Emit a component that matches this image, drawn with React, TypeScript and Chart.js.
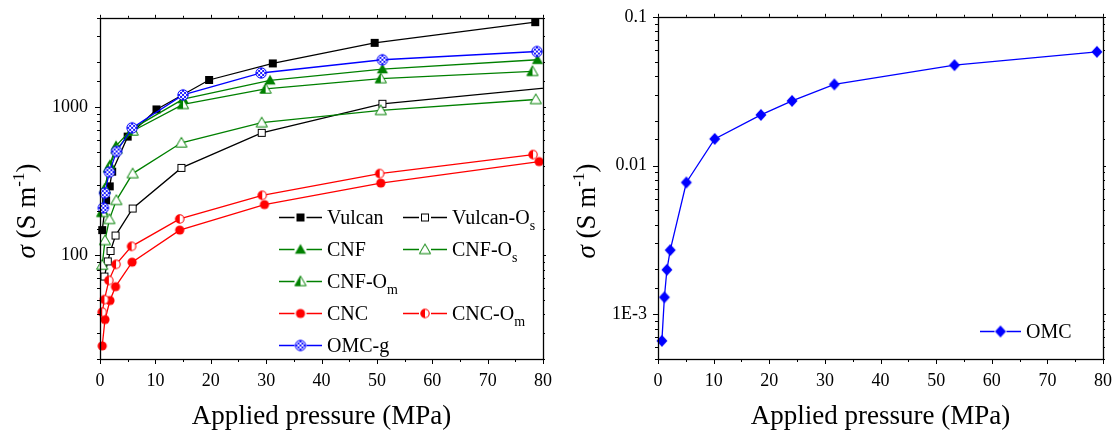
import React, { useEffect, useRef } from 'react';
import { Chart, registerables } from 'chart.js';
Chart.register(...registerables);

const SERIF = '"Liberation Serif", "Times New Roman", serif';
const GREEN = 'rgb(0,128,0)';
const RED = 'rgb(255,0,0)';
const BLUE = 'rgb(0,0,255)';
const BLACK = '#000';

// ---------- Left chart data (pressure MPa, conductivity S/m) ----------
const vulcanP = [0.4, 1.1, 1.75, 2.2, 5.0, 10.2, 19.7, 31.2, 49.6, 78.6];
const vulcanS = [148, 235, 292, 367, 632, 964, 1523, 1970, 2710, 3740];
const vulcanOsP = [0.8, 1.4, 1.9, 2.8, 5.9, 14.7, 29.2, 51.0, 85];
const vulcanOsS = [72, 91, 107, 136, 207, 389, 670, 1052, 1397];
const cnfP = [0.5, 0.85, 1.8, 2.9, 5.8, 15.0, 30.7, 51.0, 79.0];
const cnfS = [200, 284, 409, 548, 713, 1132, 1516, 1803, 2085];
const cnfOsP = [0.4, 0.9, 1.7, 2.95, 5.9, 14.7, 29.2, 50.7, 78.7];
const cnfOsS = [86, 126, 175, 235, 356, 574, 785, 950, 1125];
const cnfOmP = [0.4, 0.9, 1.6, 3.0, 5.9, 15.0, 29.9, 50.7, 78.1];
const cnfOmS = [195, 280, 390, 520, 690, 1042, 1325, 1556, 1741];
const cncP = [0.4, 0.9, 1.8, 2.8, 5.8, 14.4, 29.7, 50.7, 79.3];
const cncS = [24.5, 36.9, 49.6, 61.5, 90, 148, 220, 307, 429];
const cncOmP = [0.4, 0.8, 1.6, 2.9, 5.7, 14.4, 29.3, 50.5, 78.2];
const cncOmS = [41.4, 50.3, 67.8, 87, 115, 176, 254, 356, 478];
const omcgP = [0.6, 0.85, 1.7, 3.0, 5.8, 15.0, 29.1, 51.0, 78.9];
const omcgS = [209, 263, 364, 502, 724, 1208, 1698, 2085, 2370];

// ---------- Right chart data ----------
const omcP = [0.7, 1.15, 1.6, 2.2, 5.1, 10.2, 18.5, 24.1, 31.7, 53.3, 78.9];
const omcS = [0.000662, 0.0013, 0.00199, 0.0027, 0.00769, 0.0151, 0.0219, 0.0272, 0.0351, 0.0473, 0.0581];

// ---------- Tick labels ----------
const xTickValues = [0, 10, 20, 30, 40, 50, 60, 70, 80];
const xTickLabels = ['0', '10', '20', '30', '40', '50', '60', '70', '80'];
const leftYTickValues = [100, 1000];
const leftYTickLabels = ['100', '1000'];
const rightYTickValues = [0.001, 0.01, 0.1];
const rightYTickLabels = ['1E-3', '0.01', '0.1'];

// legend names (main text + subscript)
const leftNames = ['Vulcan', 'Vulcan-O', 'CNF', 'CNF-O', 'CNF-O', 'CNC', 'CNC-O', 'OMC-g'];
const leftSubs = ['', 's', '', 's', 'm', '', 'm', ''];
const rightName = 'OMC';

const xTitle = 'Applied pressure (MPa)';

function findLabel(v: number, values: number[], labels: string[]) {
  for (let i = 0; i < values.length; i++) {
    if (Math.abs(v - values[i]) <= Math.abs(values[i]) * 1e-6) return labels[i];
  }
  return '';
}

function makeMarker(draw: (g: CanvasRenderingContext2D) => void): HTMLCanvasElement {
  const c = document.createElement('canvas');
  c.width = 14;
  c.height = 14;
  const g = c.getContext('2d')!;
  g.translate(7, 7);
  draw(g);
  return c;
}

function triPath(g: CanvasRenderingContext2D) {
  g.beginPath();
  g.moveTo(0, -5.5);
  g.lineTo(5.6, 4.2);
  g.lineTo(-5.6, 4.2);
  g.closePath();
}

function buildMarkers() {
  const sqFilled = makeMarker((g) => {
    g.fillStyle = BLACK;
    g.fillRect(-4, -4, 8, 8);
  });
  const sqOpen = makeMarker((g) => {
    g.fillStyle = '#fff';
    g.fillRect(-4, -4, 8, 8);
    g.strokeStyle = BLACK;
    g.lineWidth = 1;
    g.strokeRect(-3.5, -3.5, 7, 7);
  });
  const triFilled = makeMarker((g) => {
    triPath(g);
    g.fillStyle = GREEN;
    g.fill();
  });
  const triOpen = makeMarker((g) => {
    triPath(g);
    g.fillStyle = '#fff';
    g.fill();
    g.strokeStyle = GREEN;
    g.lineWidth = 1;
    g.stroke();
  });
  const triHalf = makeMarker((g) => {
    triPath(g);
    g.fillStyle = '#fff';
    g.fill();
    g.save();
    g.beginPath();
    g.rect(-7, -7, 7, 14);
    g.clip();
    triPath(g);
    g.fillStyle = GREEN;
    g.fill();
    g.restore();
    triPath(g);
    g.strokeStyle = GREEN;
    g.lineWidth = 1;
    g.stroke();
  });
  const circFilled = makeMarker((g) => {
    g.beginPath();
    g.arc(0, 0, 4.6, 0, Math.PI * 2);
    g.fillStyle = RED;
    g.fill();
  });
  const circHalf = makeMarker((g) => {
    g.beginPath();
    g.arc(0, 0, 4.2, 0, Math.PI * 2);
    g.fillStyle = '#fff';
    g.fill();
    g.beginPath();
    g.arc(0, 0, 4.2, Math.PI / 2, Math.PI * 1.5);
    g.closePath();
    g.fillStyle = RED;
    g.fill();
    g.beginPath();
    g.arc(0, 0, 4.2, 0, Math.PI * 2);
    g.strokeStyle = RED;
    g.lineWidth = 1.1;
    g.stroke();
  });
  const circCross = makeMarker((g) => {
    g.beginPath();
    g.arc(0, 0, 5.2, 0, Math.PI * 2);
    g.fillStyle = '#fff';
    g.fill();
    g.save();
    g.clip();
    g.strokeStyle = BLUE;
    g.lineWidth = 0.9;
    for (let d = -4; d <= 4; d += 4) {
      g.beginPath();
      g.moveTo(d - 7, -7);
      g.lineTo(d + 7, 7);
      g.stroke();
      g.beginPath();
      g.moveTo(d + 7, -7);
      g.lineTo(d - 7, 7);
      g.stroke();
    }
    g.restore();
    g.beginPath();
    g.arc(0, 0, 5.2, 0, Math.PI * 2);
    g.strokeStyle = BLUE;
    g.lineWidth = 1;
    g.stroke();
  });
  const diamond = makeMarker((g) => {
    g.beginPath();
    g.moveTo(0, -6);
    g.lineTo(5.5, 0);
    g.lineTo(0, 6);
    g.lineTo(-5.5, 0);
    g.closePath();
    g.fillStyle = BLUE;
    g.fill();
  });
  return { sqFilled, sqOpen, triFilled, triOpen, triHalf, circFilled, circHalf, circCross, diamond };
}

function isPow10(v: number) {
  const l = Math.log10(v);
  return Math.abs(l - Math.round(l)) < 1e-6;
}

const frameTicks = {
  id: 'frameTicks',
  afterDraw(chart: any) {
    const { ctx, chartArea: a, scales } = chart;
    const xs = scales.x;
    const ys = scales.y;
    ctx.save();
    ctx.strokeStyle = BLACK;
    ctx.lineWidth = 1;
    const line = (x1: number, y1: number, x2: number, y2: number) => {
      ctx.beginPath();
      ctx.moveTo(x1, y1);
      ctx.lineTo(x2, y2);
      ctx.stroke();
    };
    for (const t of xs.ticks) {
      const px = Math.round(xs.getPixelForValue(t.value)) + 0.5;
      const major = Math.abs(t.value % 10) < 1e-9;
      line(px, a.bottom, px, a.bottom + (major ? 5 : 3));
      line(px, a.top, px, a.top - (major ? 3 : 2));
    }
    for (const t of ys.ticks) {
      const py = Math.round(ys.getPixelForValue(t.value)) + 0.5;
      const major = isPow10(t.value);
      line(a.left - (major ? 5 : 3), py, a.left, py);
      line(a.right, py, a.right + (major ? 3 : 2), py);
    }
    ctx.lineWidth = 1.3;
    ctx.strokeRect(Math.round(a.left) + 0.5, Math.round(a.top) + 0.5, Math.round(a.right - a.left), Math.round(a.bottom - a.top));
    ctx.restore();
  },
};

function drawYTitle(ctx: CanvasRenderingContext2D, x: number, cy: number) {
  const parts = [
    { t: '\u03c3', f: `italic 27px ${SERIF}`, dy: 0 },
    { t: ' (S m', f: `27px ${SERIF}`, dy: 0 },
    { t: '-1', f: `17px ${SERIF}`, dy: -11 },
    { t: ')', f: `27px ${SERIF}`, dy: 0 },
  ];
  ctx.save();
  ctx.translate(x, cy);
  ctx.rotate(-Math.PI / 2);
  ctx.fillStyle = BLACK;
  ctx.textBaseline = 'alphabetic';
  ctx.textAlign = 'left';
  let total = 0;
  const widths = parts.map((p) => {
    ctx.font = p.f;
    const w = ctx.measureText(p.t).width;
    total += w;
    return w;
  });
  let cx = -total / 2;
  parts.forEach((p, i) => {
    ctx.font = p.f;
    ctx.fillText(p.t, cx, p.dy);
    cx += widths[i];
  });
  ctx.restore();
}

function makeTitles(yTitleX: number, yTitleCY: number) {
  return {
    id: 'titles',
    afterDraw(chart: any) {
      const { ctx, chartArea: a } = chart;
      ctx.save();
      ctx.fillStyle = BLACK;
      ctx.font = `27px ${SERIF}`;
      ctx.textAlign = 'center';
      ctx.textBaseline = 'alphabetic';
      ctx.fillText(xTitle, (a.left + a.right) / 2, 424);
      ctx.restore();
      drawYTitle(ctx, yTitleX, yTitleCY);
    },
  };
}

type LegendItem = { col: number; row: number; name: string; sub: string; color: string; marker: HTMLCanvasElement };

function drawLegendItem(ctx: CanvasRenderingContext2D, x0: number, x1: number, y: number, item: LegendItem) {
  const mx = (x0 + x1) / 2;
  ctx.strokeStyle = item.color;
  ctx.lineWidth = 1.3;
  ctx.beginPath();
  ctx.moveTo(x0, y + 0.5);
  ctx.lineTo(mx - 6, y + 0.5);
  ctx.moveTo(mx + 6, y + 0.5);
  ctx.lineTo(x1, y + 0.5);
  ctx.stroke();
  ctx.drawImage(item.marker, mx - 7, y - 7 + 0.5);
  ctx.fillStyle = BLACK;
  ctx.textAlign = 'left';
  ctx.textBaseline = 'alphabetic';
  ctx.font = `20px ${SERIF}`;
  const tx = x1 + 5;
  ctx.fillText(item.name, tx, y + 7);
  if (item.sub) {
    const w = ctx.measureText(item.name).width;
    ctx.font = `14px ${SERIF}`;
    ctx.fillText(item.sub, tx + w, y + 13);
  }
}

export default function App() {
  const leftRef = useRef<HTMLCanvasElement>(null);
  const rightRef = useRef<HTMLCanvasElement>(null);

  useEffect(() => {
    const m = buildMarkers();
    const clip = { left: 10, top: 10, right: 1, bottom: 10 };
    const mkData = (px: number[], sy: number[]) => px.map((x, i) => ({ x, y: sy[i] }));
    const series = [
      { p: vulcanP, s: vulcanS, color: BLACK, marker: m.sqFilled },
      { p: vulcanOsP, s: vulcanOsS, color: BLACK, marker: m.sqOpen },
      { p: cnfP, s: cnfS, color: GREEN, marker: m.triFilled },
      { p: cnfOsP, s: cnfOsS, color: GREEN, marker: m.triOpen },
      { p: cnfOmP, s: cnfOmS, color: GREEN, marker: m.triHalf },
      { p: cncP, s: cncS, color: RED, marker: m.circFilled },
      { p: cncOmP, s: cncOmS, color: RED, marker: m.circHalf },
      { p: omcgP, s: omcgS, color: BLUE, marker: m.circCross },
    ];
    const legendPos = [
      [0, 0], [1, 0], [0, 1], [1, 1], [0, 2], [0, 3], [1, 3], [0, 4],
    ];
    const legendItems: LegendItem[] = series.map((s, i) => ({
      col: legendPos[i][0],
      row: legendPos[i][1],
      name: leftNames[i],
      sub: leftSubs[i],
      color: s.color,
      marker: s.marker,
    }));
    const leftLegend = {
      id: 'leftLegend',
      afterDraw(chart: any) {
        const ctx = chart.ctx;
        ctx.save();
        const rowsY = [217, 249, 281, 313, 345];
        const cols = [[279, 322], [403, 447]];
        legendItems.forEach((it) => {
          drawLegendItem(ctx, cols[it.col][0], cols[it.col][1], rowsY[it.row], it);
        });
        ctx.restore();
      },
    };
    const rightLegend = {
      id: 'rightLegend',
      afterDraw(chart: any) {
        const ctx = chart.ctx;
        ctx.save();
        drawLegendItem(ctx, 420, 461, 331, { col: 0, row: 0, name: rightName, sub: '', color: BLUE, marker: m.diamond });
        ctx.restore();
      },
    };

    const xScale = () => ({
      type: 'linear' as const,
      min: 0,
      max: 80,
      afterFit: (s: any) => {
        s.height = 80;
      },
      grid: { display: false, drawTicks: true, tickLength: 5 },
      border: { display: false },
      ticks: {
        stepSize: 5,
        autoSkip: false,
        maxRotation: 0,
        minRotation: 0,
        padding: 6,
        color: BLACK,
        font: { family: SERIF, size: 18 },
        callback: (v: any) => findLabel(Number(v), xTickValues, xTickLabels),
      },
    });

    const left = new Chart(leftRef.current!, {
      type: 'line',
      data: {
        datasets: series.map((s, i) => ({
          label: leftNames[i] + leftSubs[i],
          data: mkData(s.p, s.s),
          borderColor: s.color,
          backgroundColor: s.color,
          borderWidth: 1.3,
          pointStyle: s.marker as any,
          pointRadius: 5,
          pointHoverRadius: 5,
          tension: 0,
          clip: clip as any,
          order: -i,
        })),
      },
      options: {
        animation: false,
        responsive: false,
        events: [],
        layout: { padding: { left: 0, right: 17, top: 15, bottom: 0 } },
        plugins: { legend: { display: false }, tooltip: { enabled: false } },
        scales: {
          x: xScale() as any,
          y: {
            type: 'logarithmic',
            min: 20,
            max: 4000,
            afterFit: (s: any) => {
              s.width = 100;
            },
            grid: { display: false, drawTicks: true, tickLength: 5 },
            border: { display: false },
            ticks: {
              autoSkip: false,
              padding: 7,
              color: BLACK,
              font: { family: SERIF, size: 18 },
              callback: (v: any) => findLabel(Number(v), leftYTickValues, leftYTickLabels),
            },
          } as any,
        },
      },
      plugins: [frameTicks, makeTitles(35, 211), leftLegend],
    });

    const right = new Chart(rightRef.current!, {
      type: 'line',
      data: {
        datasets: [
          {
            label: rightName,
            data: mkData(omcP, omcS),
            borderColor: BLUE,
            backgroundColor: BLUE,
            borderWidth: 1.3,
            pointStyle: m.diamond as any,
            pointRadius: 5,
            pointHoverRadius: 5,
            tension: 0,
            clip: clip as any,
          },
        ],
      },
      options: {
        animation: false,
        responsive: false,
        events: [],
        layout: { padding: { left: 0, right: 15, top: 15, bottom: 0 } },
        plugins: { legend: { display: false }, tooltip: { enabled: false } },
        scales: {
          x: xScale() as any,
          y: {
            type: 'logarithmic',
            min: 0.0005,
            max: 0.1,
            afterFit: (s: any) => {
              s.width = 98;
            },
            grid: { display: false, drawTicks: true, tickLength: 5 },
            border: { display: false },
            ticks: {
              autoSkip: false,
              padding: 6,
              color: BLACK,
              font: { family: SERIF, size: 18 },
              callback: (v: any) => findLabel(Number(v), rightYTickValues, rightYTickLabels),
            },
          } as any,
        },
      },
      plugins: [frameTicks, makeTitles(35, 211), rightLegend],
    });

    return () => {
      left.destroy();
      right.destroy();
    };
  }, []);

  return (
    <div style={{ position: 'fixed', left: 0, top: 0, width: 1118, height: 439, background: '#fff' }}>
      <canvas ref={leftRef} width={560} height={439} style={{ position: 'absolute', left: 0, top: 0 }} />
      <canvas ref={rightRef} width={558} height={439} style={{ position: 'absolute', left: 560, top: 0 }} />
    </div>
  );
}
